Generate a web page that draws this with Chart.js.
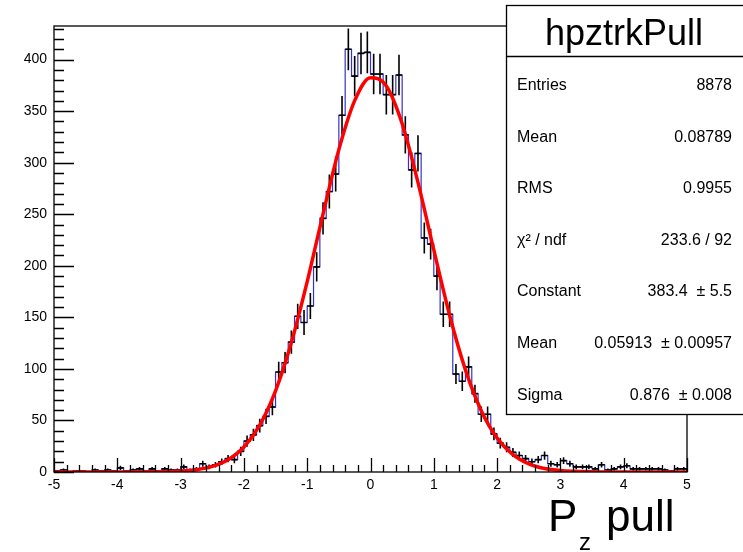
<!DOCTYPE html>
<html>
<head>
<meta charset="utf-8">
<title>hpztrkPull</title>
<script src="https://cdn.jsdelivr.net/npm/chart.js@4.4.1/dist/chart.umd.min.js"></script>
<style>
  html, body { margin: 0; padding: 0; background: #fff; }
  #grafica { display: block; }
</style>
</head>
<body>
<canvas id="grafica" width="743" height="552"></canvas>
<script>
// histogram binning (100 bins from -5 to 5)
const xMin = -5;
const xMax = 5;
const nBins = 100;

// bin contents
const counts = [
  1, 2, 0, 1, 1, 0, 2, 1, 2, 1,
  4, 1, 2, 3, 1, 3, 1, 3, 2, 2,
  5, 2, 3, 8, 5, 7, 10, 13, 12, 20,
  30, 36, 45, 54, 63, 97, 106, 126, 151, 145,
  161, 199, 246, 272, 289, 346, 410, 384, 406, 407,
  386, 386, 366, 366, 385, 327, 293, 309, 227, 221,
  190, 153, 153, 95, 88, 102, 76, 56, 56, 37,
  28, 24, 19, 16, 13, 10, 12, 16, 8, 7,
  11, 8, 5, 5, 5, 3, 7, 2, 3, 5,
  6, 3, 3, 3, 3, 3, 2, 1, 3, 3
];

// gaus fit curve
const fitX = [-5, -4, -3.5, -3, -2.75, -2.5, -2.25, -2, -1.75, -1.5, -1.25, -1, -0.75, -0.5, -0.25,
  0, 0.25, 0.5, 0.75, 1, 1.25, 1.5, 1.75, 2, 2.25, 2.5, 2.75, 3, 3.5, 4, 5];
const fitY = [0, 0, 0.2, 0.9, 2.2, 5.4, 11.9, 24.2, 45.5, 78.7, 125.6, 184.6, 250.2, 312.7, 360.2,
  382.5, 374.4, 337.8, 280.9, 215.4, 152.1, 99.1, 59.5, 32.9, 16.8, 7.9, 3.4, 1.4, 0.2, 0, 0];

// axis ticks
const xTicks = [-5, -4, -3, -2, -1, 0, 1, 2, 3, 4, 5];
const yTicks = [0, 50, 100, 150, 200, 250, 300, 350, 400];
const yMax = 432.6;

// stats box
const statsTitle = 'hpztrkPull';
const statsNames = ['Entries', 'Mean', 'RMS', 'χ² / ndf', 'Constant', 'Mean', 'Sigma'];
const statsValues = ['8878', '0.08789', '0.9955', '233.6 / 92', '383.4  ± 5.5', '0.05913  ± 0.00957', '0.876  ± 0.008'];

const FONT = '"Liberation Sans", Arial, Helvetica, sans-serif';

document.addEventListener('DOMContentLoaded', function () {
  const canvas = document.getElementById('grafica');
  if (!canvas || typeof Chart === 'undefined') {
    console.warn('Chart.js or canvas missing');
    return;
  }
  const binW = (xMax - xMin) / nBins;

  // blue step outline
  const histPts = counts.map((v, i) => ({ x: xMin + i * binW, y: v }));
  histPts.push({ x: xMax, y: counts[counts.length - 1] });

  // black error crosses (sqrt(N))
  const errPts = [];
  counts.forEach((v, i) => {
    if (v <= 0) return;
    const lo = xMin + i * binW, hi = lo + binW, c = lo + binW / 2, e = Math.sqrt(v);
    errPts.push({ x: c, y: v - e }, { x: c, y: v + e }, { x: c, y: null });
    errPts.push({ x: lo, y: v }, { x: hi, y: v }, { x: hi, y: null });
  });

  const fitPts = fitX.map((x, i) => ({ x: x, y: fitY[i] }));

  // frame + inward ROOT-like ticks
  const rootAxes = {
    id: 'rootAxes',
    afterDatasetsDraw(chart) {
      const { ctx, chartArea: a, scales: { x, y } } = chart;
      ctx.save();
      ctx.strokeStyle = '#000';
      ctx.lineWidth = 1.3;
      ctx.strokeRect(a.left, a.top, a.right - a.left, a.bottom - a.top);
      ctx.beginPath();
      for (let i = 0; i <= 50; i++) {
        const v = xMin + i * 0.2;
        const px = Math.round(x.getPixelForValue(v)) + 0.5;
        const len = (i % 5 === 0) ? 14 : 7;
        ctx.moveTo(px, a.bottom);
        ctx.lineTo(px, a.bottom - len);
      }
      for (let v = 0; v <= yMax; v += 10) {
        const py = Math.round(y.getPixelForValue(v)) + 0.5;
        const len = (v % 50 === 0) ? 20 : 10;
        ctx.moveTo(a.left, py);
        ctx.lineTo(a.left + len, py);
      }
      ctx.stroke();
      ctx.restore();
    },
    afterDraw(chart) {
      const ctx = chart.ctx;
      ctx.save();
      // stats box
      ctx.fillStyle = '#fff';
      ctx.fillRect(506, 5.5, 245, 409);
      ctx.strokeStyle = '#000';
      ctx.lineWidth = 1.3;
      ctx.strokeRect(506.5, 5.5, 245, 409);
      ctx.beginPath();
      ctx.moveTo(506.5, 56.5);
      ctx.lineTo(743, 56.5);
      ctx.stroke();

      ctx.fillStyle = '#000';
      ctx.textBaseline = 'alphabetic';
      ctx.font = '36px ' + FONT;
      ctx.textAlign = 'center';
      ctx.fillText(statsTitle, 624, 45);

      ctx.font = '16px ' + FONT;
      statsNames.forEach((name, i) => {
        const by = 90 + i * 51.6;
        ctx.textAlign = 'left';
        ctx.fillText(name, 517, by);
        ctx.textAlign = 'right';
        ctx.fillText(statsValues[i], 732, by);
      });

      // axis title  P_z pull
      ctx.textAlign = 'left';
      ctx.font = '44px ' + FONT;
      ctx.fillText('P', 548, 531);
      ctx.fillText('pull', 606, 531);
      ctx.font = '24px ' + FONT;
      ctx.fillText('z', 579, 550);
      ctx.restore();
    }
  };

  new Chart(canvas.getContext('2d'), {
    type: 'line',
    data: {
      datasets: [
        {
          label: 'fit',
          data: fitPts,
          borderColor: '#ff0000',
          borderWidth: 3.5,
          pointRadius: 0,
          cubicInterpolationMode: 'monotone',
          fill: false,
          order: 0
        },
        {
          label: 'errors',
          data: errPts,
          borderColor: '#000',
          borderWidth: 1.6,
          pointRadius: 0,
          spanGaps: false,
          fill: false,
          order: 1
        },
        {
          label: 'hpztrkPull',
          data: histPts,
          borderColor: '#3333cc',
          borderWidth: 1.2,
          pointRadius: 0,
          stepped: 'before',
          fill: false,
          order: 2
        }
      ]
    },
    options: {
      responsive: false,
      animation: false,
      devicePixelRatio: 1,
      layout: { padding: { top: 26, right: 56, left: 0, bottom: 0 } },
      plugins: { legend: { display: false }, tooltip: { enabled: false } },
      scales: {
        x: {
          type: 'linear',
          min: xMin,
          max: xMax,
          grid: { display: false, drawTicks: false },
          border: { display: false },
          afterBuildTicks: (s) => { s.ticks = xTicks.map(v => ({ value: v })); },
          afterFit: (s) => { s.height = 80; },
          ticks: {
            autoSkip: false,
            maxRotation: 0,
            padding: 5,
            color: '#000',
            font: { family: FONT, size: 14 }
          }
        },
        y: {
          type: 'linear',
          min: 0,
          max: yMax,
          grid: { display: false, drawTicks: false },
          border: { display: false },
          afterBuildTicks: (s) => { s.ticks = yTicks.map(v => ({ value: v })); },
          afterFit: (s) => { s.width = 54; },
          ticks: {
            padding: 7,
            color: '#000',
            font: { family: FONT, size: 14 }
          }
        }
      }
    },
    plugins: [rootAxes]
  });
});
</script>
</body>
</html>
